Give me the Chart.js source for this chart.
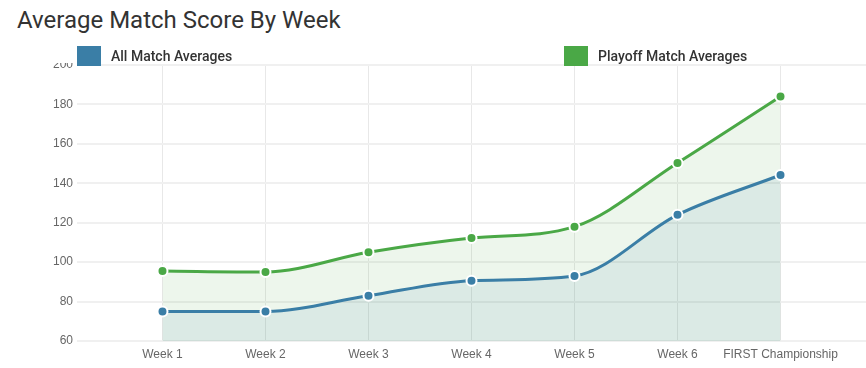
<!DOCTYPE html>
<html>
<head>
<meta charset="utf-8">
<script src="https://cdn.jsdelivr.net/npm/chart.js@4.4.1/dist/chart.umd.min.js"></script>
<style>
  html, body { margin: 0; padding: 0; background: #fff; }
  body { width: 866px; height: 368px; position: relative; overflow: hidden; font-family: Roboto, "Noto Sans", sans-serif; }
  #title { position: absolute; left: 17px; top: 6px; font-size: 24px; color: #333; font-weight: 400; white-space: nowrap; }
  #wrap { position: absolute; left: 0; top: 63px; width: 866px; height: 305px; }
  #legend { position: absolute; left: 77px; top: 46px; display: flex; z-index: 2; }
  .item { width: 487px; display: flex; align-items: center; height: 20px; }
  .box { width: 24px; height: 20px; margin-right: 10px; }
  .lbl { font-size: 14px; font-weight: 500; color: #333; white-space: nowrap; }
</style>
</head>
<body>
<div id="title">Average Match Score By Week</div>
<div id="wrap"><canvas id="c" width="866" height="305"></canvas></div>
<div id="legend"></div>
<script>
const categories = ["Week 1", "Week 2", "Week 3", "Week 4", "Week 5", "Week 6", "FIRST Championship"];
const allMatchAverages = [75, 75, 83, 90.6, 93, 124, 144.2];
const playoffMatchAverages = [95.5, 95, 105, 112.2, 118, 150.3, 184];
const yTicks = [60, 80, 100, 120, 140, 160, 180, 200];
const seriesNames = ["All Match Averages", "Playoff Match Averages"];

const BLUE = '#3a7ea6';
const GREEN = '#4aa846';
const TICK_FONT = { family: '"Liberation Sans", Arial, sans-serif', size: 12 };

function pts(arr) { return arr.map((v, i) => ({ x: i, y: v })); }

const chart = new Chart(document.getElementById('c'), {
  type: 'line',
  data: {
    datasets: [
      {
        label: seriesNames[0],
        data: pts(allMatchAverages),
        borderColor: BLUE,
        backgroundColor: 'rgba(58,126,166,0.1)',
        pointBackgroundColor: BLUE,
        pointBorderColor: '#fff',
        pointBorderWidth: 2,
        pointRadius: 5,
        borderWidth: 3,
        fill: 'origin',
        cubicInterpolationMode: 'monotone'
      },
      {
        label: seriesNames[1],
        data: pts(playoffMatchAverages),
        borderColor: GREEN,
        backgroundColor: 'rgba(74,168,70,0.1)',
        pointBackgroundColor: GREEN,
        pointBorderColor: '#fff',
        pointBorderWidth: 2,
        pointRadius: 5,
        borderWidth: 3,
        fill: 'origin',
        cubicInterpolationMode: 'monotone'
      }
    ]
  },
  options: {
    responsive: false,
    animation: false,
    layout: { autoPadding: false, padding: { top: 2, left: 0, right: 0, bottom: 7 } },
    plugins: { legend: { display: false }, title: { display: false }, tooltip: { enabled: false } },
    scales: {
      x: {
        type: 'linear',
        min: -0.83,
        max: 6.83,
        afterBuildTicks: s => { s.ticks = categories.map((_, i) => ({ value: i })); },
        afterFit: s => { s.height = 20; s.paddingLeft = 0; s.paddingRight = 0; },
        ticks: {
          autoSkip: false,
          maxRotation: 0,
          padding: 6,
          color: '#666',
          font: TICK_FONT,
          callback: v => categories[v] !== undefined ? categories[v] : ''
        },
        grid: { color: '#e8e8e8', drawTicks: false },
        border: { display: false }
      },
      y: {
        min: 60,
        max: 200,
        afterBuildTicks: s => { s.ticks = yTicks.map(v => ({ value: v })); },
        afterFit: s => { s.width = 77; s.paddingTop = 0; s.paddingBottom = 0; },
        ticks: {
          padding: 4,
          color: '#666',
          font: TICK_FONT
        },
        grid: { color: '#f0f0f0', lineWidth: 2, drawTicks: false },
        border: { display: false }
      }
    }
  }
});

const legend = document.getElementById('legend');
chart.data.datasets.forEach(ds => {
  const it = document.createElement('div');
  it.className = 'item';
  const b = document.createElement('div');
  b.className = 'box';
  b.style.background = ds.borderColor;
  const t = document.createElement('span');
  t.className = 'lbl';
  t.textContent = ds.label;
  it.appendChild(b); it.appendChild(t);
  legend.appendChild(it);
});
</script>
</body>
</html>
